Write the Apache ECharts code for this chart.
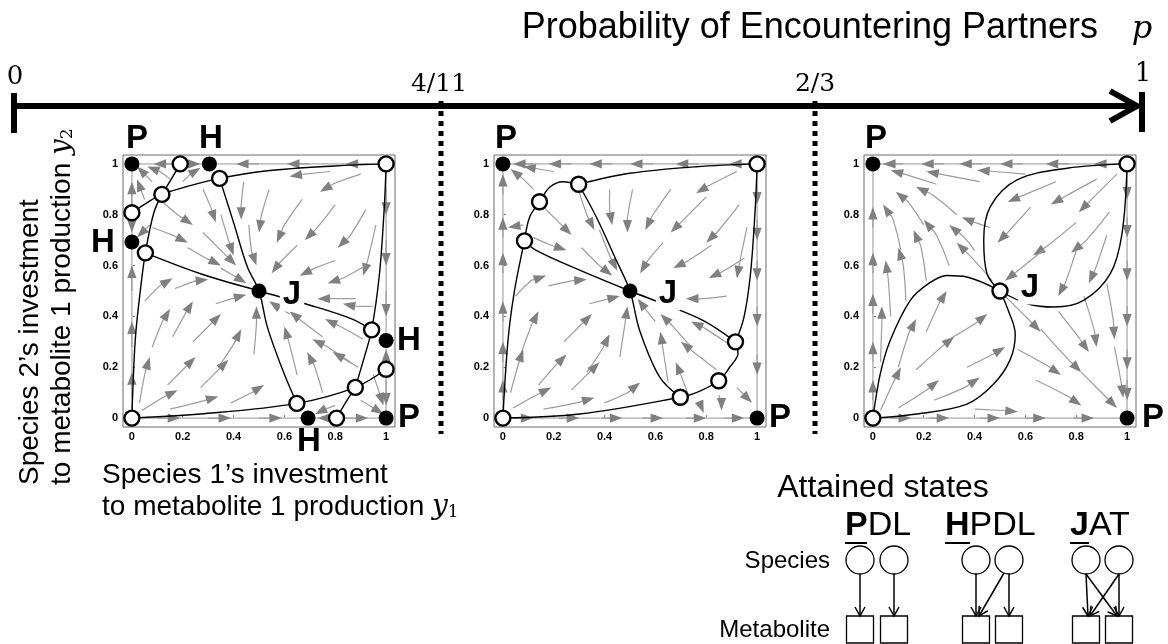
<!DOCTYPE html>
<html><head><meta charset="utf-8">
<script src="https://cdn.jsdelivr.net/npm/echarts@6/dist/echarts.min.js"></script>
<style>html,body{margin:0;padding:0;background:#fff}#c{width:1168px;height:644px}</style>
</head><body><div id="c"></div>
<script>
// ---------- DATA ----------
var tickValues = [0, 0.2, 0.4, 0.6, 0.8, 1];
var pLabels = ['0', '4/11', '2/3', '1'];
var boundaryLoop = [[0,0],[1,0],[1,1],[0,1],[0,0]];

// Panel 1 (p < 4/11)
var p1Stable = [[0,1],[0.305,1],[0,0.693],[0.5,0.5],[1,0.305],[0.693,0],[1,0]];
var p1Unstable = [[0.19,1],[0.345,0.943],[1,1],[0.118,0.88],[0,0.808],[0.053,0.65],[0.943,0.347],[1,0.192],[0.879,0.121],[0.649,0.058],[0.805,0],[0,0]];
var p1Curves = [
  [[0,0.808],[0.06,0.848],[0.118,0.88],[0.217,0.911],[0.345,0.943],[0.533,0.973],[0.796,0.992],[1,1]],
  [[0.118,0.88],[0.155,0.94],[0.19,1]],
  [[0,0],[0.013,0.305],[0.033,0.5],[0.053,0.65],[0.086,0.807],[0.118,0.88]],
  [[0.053,0.65],[0.27,0.568],[0.5,0.5],[0.704,0.443],[0.862,0.391],[0.943,0.347]],
  [[0.345,0.943],[0.401,0.766],[0.454,0.595],[0.5,0.5],[0.533,0.358],[0.599,0.174],[0.649,0.058]],
  [[0,0],[0.27,0.016],[0.649,0.058],[0.879,0.121],[1,0.192]],
  [[1,1],[0.993,0.832],[0.974,0.568],[0.943,0.347],[0.914,0.239],[0.879,0.121]],
  [[0.879,0.121],[0.84,0.06],[0.805,0]]
];
var p1Arrows = [
  [0.16,1,0.125,1,0.085,1],[0.2,1,0.235,1,0.27,1],[0.5,1,0.455,1,0.41,1],[0.7,1,0.655,1,0.61,1],[0.93,1,0.885,1,0.84,1],
  [0,0.84,0,0.88,0,0.93],[0,0.795,0,0.765,0,0.73],[0,0.5,0,0.55,0,0.6],[0,0.28,0,0.33,0,0.38],[0,0.08,0,0.13,0,0.18],
  [1,0.9,1,0.85,1,0.8],[1,0.7,1,0.65,1,0.6],[1,0.5,1,0.45,1,0.4],[1,0.205,1,0.235,1,0.27],[1,0.15,1,0.1,1,0.05],
  [0.1,0,0.145,0,0.19,0],[0.3,0,0.345,0,0.39,0],[0.5,0,0.545,0,0.59,0],[0.79,0,0.765,0,0.73,0],[0.84,0,0.885,0,0.93,0],
  [0.11,0.86,0.18,0.8,0.24,0.76],[0.28,0.73,0.35,0.66,0.41,0.6],[0.28,0.9,0.31,0.83,0.33,0.77],[0.35,0.8,0.38,0.7,0.4,0.64],
  [0.08,0.75,0.16,0.72,0.22,0.69],[0.22,0.67,0.29,0.63,0.35,0.6],[0.35,0.59,0.41,0.555,0.45,0.53],[0.07,0.76,0.05,0.74,0.02,0.71],
  [0.08,0.93,0.05,0.96,0.02,0.99],[0.15,0.94,0.11,0.97,0.06,0.99],[0.2,0.93,0.23,0.96,0.27,0.985],[0.05,0.86,0.035,0.9,0.02,0.94],
  [0.9,0.96,0.8,0.925,0.74,0.89],[0.78,0.97,0.68,0.96,0.62,0.95],[0.44,0.93,0.43,0.84,0.43,0.78],[0.54,0.9,0.51,0.8,0.5,0.73],
  [0.67,0.86,0.6,0.76,0.57,0.69],[0.8,0.84,0.73,0.75,0.68,0.7],[0.92,0.82,0.86,0.72,0.81,0.67],[0.96,0.76,0.93,0.63,0.91,0.56],
  [0.8,0.62,0.72,0.59,0.66,0.56],[0.92,0.6,0.83,0.55,0.77,0.53],[0.65,0.68,0.58,0.61,0.55,0.57],[0.88,0.47,0.79,0.47,0.73,0.47],
  [0.95,0.44,0.88,0.44,0.83,0.45],[0.46,0.76,0.47,0.66,0.49,0.6],
  [0.91,0.31,0.82,0.36,0.76,0.39],[0.75,0.32,0.67,0.38,0.62,0.42],[0.86,0.22,0.77,0.28,0.71,0.31],[0.65,0.17,0.62,0.29,0.6,0.36],
  [0.75,0.1,0.72,0.2,0.69,0.26],[0.89,0.2,0.84,0.23,0.79,0.26],[0.62,0.41,0.57,0.44,0.54,0.46],
  [0.04,0.03,0.12,0.08,0.18,0.11],[0.14,0.13,0.21,0.2,0.25,0.24],[0.08,0.28,0.12,0.38,0.15,0.43],[0.05,0.46,0.11,0.52,0.16,0.55],
  [0.17,0.51,0.25,0.54,0.3,0.545],[0.24,0.3,0.31,0.37,0.35,0.41],[0.33,0.45,0.41,0.475,0.45,0.485],[0.34,0.2,0.4,0.29,0.43,0.35],
  [0.48,0.25,0.49,0.37,0.49,0.44],[0.15,0.035,0.27,0.065,0.34,0.085],[0.39,0.06,0.47,0.1,0.52,0.13],[0.27,0.12,0.34,0.19,0.38,0.23],
  [0.03,0.06,0.05,0.17,0.07,0.24],[0.16,0.32,0.21,0.41,0.24,0.46],
  [0.8,0.05,0.76,0.035,0.72,0.015],[0.9,0.07,0.95,0.04,0.99,0.015],[0.95,0.17,0.97,0.11,0.99,0.05]
];

// Panel 2 (4/11 < p < 2/3)
var p2Stable = [[0,1],[0.5,0.5],[1,0]];
var p2Unstable = [[1,1],[0.298,0.92],[0.144,0.851],[0.085,0.697],[0.915,0.3],[0.849,0.147],[0.698,0.082],[0,0]];
var p2Curves = [
  [[0.298,0.92],[0.499,0.963],[0.761,0.989],[1,1]],
  [[0.298,0.92],[0.236,0.93],[0.184,0.908],[0.144,0.851],[0.105,0.79],[0.085,0.697]],
  [[0,0],[0.02,0.305],[0.046,0.503],[0.085,0.697]],
  [[0.085,0.697],[0.131,0.66],[0.302,0.582],[0.5,0.5],[0.63,0.45],[0.787,0.384],[0.915,0.3]],
  [[0.298,0.92],[0.367,0.792],[0.446,0.621],[0.5,0.5],[0.538,0.345],[0.617,0.161],[0.698,0.082]],
  [[0,0],[0.302,0.016],[0.698,0.082],[0.761,0.1],[0.849,0.147],[0.892,0.2],[0.925,0.255],[0.915,0.3]],
  [[1,1],[0.993,0.832],[0.974,0.568],[0.948,0.395],[0.915,0.3]]
];
var p2Arrows = [
  [0.12,1,0.08,1,0.04,1],[0.27,1,0.225,1,0.18,1],[0.43,1,0.385,1,0.34,1],[0.59,1,0.545,1,0.5,1],[0.77,1,0.725,1,0.68,1],[0.97,1,0.93,1,0.89,1],
  [0,0.07,0,0.11,0,0.15],[0,0.22,0,0.26,0,0.3],[0,0.38,0,0.42,0,0.46],[0,0.57,0,0.61,0,0.65],[0,0.71,0,0.75,0,0.79],[0,0.88,0,0.92,0,0.96],
  [1,0.92,1,0.88,1,0.84],[1,0.78,1,0.74,1,0.7],[1,0.62,1,0.58,1,0.54],[1,0.44,1,0.4,1,0.36],[1,0.25,1,0.21,1,0.17],
  [0.04,0,0.08,0,0.12,0],[0.22,0,0.26,0,0.3,0],[0.39,0,0.43,0,0.47,0],[0.55,0,0.59,0,0.63,0],[0.72,0,0.76,0,0.8,0],[0.87,0,0.91,0,0.95,0],
  [0.12,0.9,0.08,0.94,0.03,0.98],[0.08,0.76,0.05,0.755,0.02,0.75],[0.2,0.97,0.14,0.98,0.08,0.99],
  [0.15,0.84,0.22,0.77,0.27,0.72],[0.31,0.67,0.38,0.6,0.43,0.56],[0.3,0.89,0.33,0.8,0.36,0.74],[0.38,0.74,0.42,0.64,0.45,0.58],
  [0.12,0.71,0.19,0.68,0.25,0.66],
  [0.92,0.97,0.82,0.92,0.76,0.885],[0.51,0.9,0.49,0.79,0.49,0.73],[0.66,0.9,0.59,0.8,0.56,0.74],[0.8,0.87,0.71,0.78,0.66,0.73],
  [0.93,0.84,0.85,0.74,0.8,0.69],[0.82,0.68,0.73,0.62,0.67,0.59],[0.95,0.63,0.87,0.58,0.81,0.55],[0.63,0.69,0.57,0.62,0.54,0.57],
  [0.88,0.48,0.79,0.47,0.72,0.47],[0.96,0.75,0.935,0.63,0.92,0.55],[0.42,0.9,0.42,0.82,0.43,0.76],
  [0.89,0.29,0.8,0.35,0.74,0.38],[0.74,0.28,0.67,0.36,0.62,0.41],[0.84,0.19,0.75,0.26,0.7,0.3],[0.65,0.14,0.63,0.27,0.62,0.34],
  [0.73,0.09,0.7,0.17,0.68,0.22],[0.6,0.38,0.56,0.43,0.53,0.47],
  [0.92,0.12,0.95,0.09,0.98,0.06],[0.78,0.07,0.78,0.045,0.79,0.02],[0.85,0.09,0.86,0.06,0.86,0.03],
  [0.04,0.04,0.13,0.09,0.19,0.12],[0.14,0.13,0.21,0.21,0.25,0.25],[0.07,0.25,0.11,0.36,0.14,0.42],[0.05,0.48,0.11,0.54,0.17,0.56],
  [0.18,0.52,0.27,0.54,0.33,0.545],[0.24,0.3,0.31,0.37,0.35,0.41],[0.34,0.45,0.42,0.47,0.46,0.48],[0.33,0.18,0.39,0.27,0.42,0.33],
  [0.46,0.24,0.48,0.37,0.49,0.44],[0.16,0.035,0.29,0.06,0.36,0.08],[0.4,0.06,0.49,0.1,0.54,0.14],[0.27,0.11,0.34,0.18,0.38,0.22],
  [0.03,0.1,0.06,0.21,0.08,0.27]
];

// Panel 3 (p > 2/3)
var p3Stable = [[0,1],[1,0]];
var p3Unstable = [[1,1],[0.5,0.5],[0,0]];
var p3Curves = [
  [[0,0],[0.029,0.174],[0.068,0.305],[0.147,0.463],[0.22,0.53],[0.291,0.561],[0.37,0.555],[0.5,0.5]],
  [[0,0],[0.173,0.016],[0.37,0.055],[0.475,0.134],[0.54,0.23],[0.56,0.33],[0.53,0.43],[0.5,0.5]],
  [[0.5,0.5],[0.449,0.568],[0.436,0.7],[0.462,0.832],[0.567,0.937],[0.764,0.983],[1,1]],
  [[0.5,0.5],[0.608,0.45],[0.713,0.437],[0.829,0.463],[0.934,0.568],[0.98,0.726],[1,1]]
];
var p3Arrows = [
  [0.12,1,0.08,1,0.04,1],[0.28,1,0.235,1,0.19,1],[0.43,1,0.385,1,0.34,1],[0.59,1,0.545,1,0.5,1],[0.77,1,0.725,1,0.68,1],[0.96,1,0.915,1,0.87,1],
  [0,0.07,0,0.11,0,0.15],[0,0.22,0,0.26,0,0.3],[0,0.41,0,0.45,0,0.49],[0,0.57,0,0.61,0,0.65],[0,0.75,0,0.79,0,0.83],
  [1,0.94,1,0.9,1,0.86],[1,0.79,1,0.75,1,0.71],[1,0.62,1,0.58,1,0.54],[1,0.44,1,0.4,1,0.36],[1,0.27,1,0.23,1,0.19],[1,0.15,1,0.11,1,0.07],
  [0.07,0,0.11,0,0.15,0],[0.22,0,0.26,0,0.3,0],[0.42,0,0.46,0,0.5,0],[0.6,0,0.64,0,0.68,0],[0.79,0,0.83,0,0.87,0],
  [0.03,0.22,0.035,0.37,0.035,0.44],[0.07,0.4,0.06,0.55,0.05,0.62],[0.13,0.46,0.12,0.6,0.1,0.67],[0.21,0.54,0.19,0.67,0.16,0.74],
  [0.11,0.66,0.08,0.78,0.04,0.84],[0.3,0.6,0.25,0.72,0.2,0.78],[0.2,0.76,0.14,0.85,0.09,0.89],[0.33,0.8,0.24,0.875,0.17,0.91],
  [0.47,0.54,0.39,0.63,0.33,0.69],[0.25,0.92,0.14,0.955,0.07,0.975],[0.42,0.93,0.29,0.955,0.21,0.97],[0.6,0.96,0.48,0.97,0.41,0.975],
  [0.46,0.75,0.4,0.77,0.35,0.79],[0.4,0.66,0.36,0.71,0.3,0.76],
  [0.03,0.03,0.08,0.14,0.11,0.2],[0.1,0.04,0.21,0.11,0.26,0.15],[0.1,0.2,0.14,0.33,0.17,0.39],[0.17,0.19,0.27,0.28,0.32,0.32],
  [0.24,0.07,0.36,0.12,0.42,0.16],[0.21,0.34,0.26,0.45,0.29,0.5],[0.3,0.31,0.4,0.37,0.45,0.41],[0.37,0.2,0.47,0.25,0.52,0.28],
  [0.96,0.96,0.87,0.87,0.81,0.81],[0.88,0.94,0.77,0.88,0.7,0.84],[0.72,0.93,0.6,0.88,0.53,0.85],[0.93,0.81,0.84,0.7,0.78,0.65],
  [0.8,0.77,0.69,0.68,0.63,0.64],[0.67,0.66,0.57,0.58,0.52,0.54],[0.92,0.72,0.88,0.6,0.85,0.53],[0.8,0.66,0.76,0.54,0.73,0.48],
  [0.62,0.83,0.53,0.73,0.49,0.69],
  [0.52,0.48,0.6,0.4,0.66,0.34],[0.66,0.35,0.76,0.24,0.82,0.18],[0.82,0.18,0.91,0.09,0.96,0.04],[0.57,0.27,0.68,0.21,0.74,0.17],
  [0.64,0.15,0.76,0.09,0.82,0.05],[0.83,0.48,0.87,0.35,0.88,0.28],[0.92,0.53,0.945,0.39,0.95,0.31],[0.95,0.28,0.975,0.15,0.985,0.08],
  [0.4,0.035,0.51,0.03,0.57,0.025],[0.73,0.42,0.8,0.33,0.85,0.26]
];

// ---------- STYLE / LAYOUT ----------
var SANS = '"Liberation Sans", Arial, Helvetica, sans-serif';
var SERIF = '"DejaVu Serif", "Liberation Serif", serif';
var gridLefts = [123, 494, 864];
var panels = [
  {stable: p1Stable, unstable: p1Unstable, curves: p1Curves, arrows: p1Arrows},
  {stable: p2Stable, unstable: p2Unstable, curves: p2Curves, arrows: p2Arrows},
  {stable: p3Stable, unstable: p3Unstable, curves: p3Curves, arrows: p3Arrows}
];

function renderArrow(params, api) {
  var a = api.coord([api.value(0), api.value(1)]);
  var m = api.coord([api.value(2), api.value(3)]);
  var b = api.coord([api.value(4), api.value(5)]);
  var dx = b[0] - m[0], dy = b[1] - m[1];
  var len = Math.sqrt(dx * dx + dy * dy) || 1;
  var ux = dx / len, uy = dy / len;
  var L = 12.5, W = 4.6;
  var bx = b[0] - ux * L, by = b[1] - uy * L;
  return {type: 'group', children: [
    {type: 'polyline', shape: {points: [a, m, [bx + ux * 2, by + uy * 2]], smooth: 0.5},
     style: {stroke: '#9c9c9c', lineWidth: 1.2, fill: null}},
    {type: 'polygon', shape: {points: [b, [bx - uy * W, by + ux * W], [bx + uy * W, by - ux * W]]},
     style: {fill: '#808080'}}
  ]};
}

var grids = [], xAxes = [], yAxes = [], series = [];
gridLefts.forEach(function (left, i) {
  grids.push({left: left, top: 155, width: 272, height: 272, show: true, borderColor: '#6a6a6a', borderWidth: 1, backgroundColor: 'transparent'});
  function mkAxis(margin) {
    return {
      gridIndex: i, type: 'value', min: -0.035, max: 1.035,
      axisLine: {show: false}, splitLine: {show: false},
      axisTick: {show: true, inside: true, length: 3, lineStyle: {color: '#777'}, customValues: tickValues},
      axisLabel: {customValues: tickValues, fontSize: 11, fontWeight: 'bold', color: '#000', fontFamily: SANS, margin: margin,
        formatter: function (v) { return String(Math.round(v * 10) / 10); }}
    };
  }
  xAxes.push(mkAxis(4)); yAxes.push(mkAxis(5));
  var P = panels[i];
  series.push({type: 'line', xAxisIndex: i, yAxisIndex: i, data: boundaryLoop, showSymbol: false, silent: true,
    lineStyle: {color: '#c4c4c4', width: 1.8}, z: 1});
  series.push({type: 'custom', xAxisIndex: i, yAxisIndex: i, coordinateSystem: 'cartesian2d', renderItem: renderArrow,
    data: P.arrows, encode: {x: [0, 2, 4], y: [1, 3, 5]}, clip: false, silent: true, z: 2});
  P.curves.forEach(function (c) {
    series.push({type: 'line', xAxisIndex: i, yAxisIndex: i, data: c, smooth: 0.35, showSymbol: false, silent: true,
      lineStyle: {color: '#000', width: 1.4, opacity: 1}, z: 3});
  });
  series.push({type: 'scatter', xAxisIndex: i, yAxisIndex: i, data: P.unstable, symbolSize: 15, silent: true,
    itemStyle: {color: '#fff', borderColor: '#000', borderWidth: 2.4, opacity: 1}, z: 5, clip: false});
  series.push({type: 'scatter', xAxisIndex: i, yAxisIndex: i, data: P.stable, symbolSize: 15, silent: true,
    itemStyle: {color: '#000', opacity: 1}, z: 5, clip: false});
});

// ---------- GRAPHIC (annotation, top axis, diagram) ----------
var g = [];
function txt(x, y, s, font, opt) {
  var st = {text: s, font: font, fill: '#000', textAlign: 'center', textVerticalAlign: 'middle'};
  if (opt) for (var k in opt) st[k] = opt[k];
  return {type: 'text', x: x, y: y, style: st, z: 50};
}
function seg(x1, y1, x2, y2, w, extra) {
  var st = {stroke: '#000', lineWidth: w};
  if (extra) for (var k in extra) st[k] = extra[k];
  return {type: 'line', shape: {x1: x1, y1: y1, x2: x2, y2: y2}, style: st, z: 50};
}
// top probability axis
g.push(seg(14, 106, 1136, 106, 6));
g.push(seg(14, 93, 14, 133, 6));
g.push(seg(1142, 92, 1142, 132, 6));
g.push({type: 'polyline', shape: {points: [[1110, 91], [1137, 106], [1110, 121]]}, style: {stroke: '#000', lineWidth: 6, fill: null, lineJoin: 'miter'}, z: 50});
g.push(seg(441, 101, 441, 434, 5, {lineDash: [5, 5]}));
g.push(seg(815, 101, 815, 434, 5, {lineDash: [5, 5]}));
g.push(txt(15, 77, pLabels[0], '26px ' + SERIF));
g.push(txt(439, 84, pLabels[1], '25px ' + SERIF));
g.push(txt(815, 84, pLabels[2], '25px ' + SERIF));
g.push(txt(1143, 74, pLabels[3], '26px ' + SERIF));
g.push(txt(1098, 28, 'Probability of Encountering Partners', '36px ' + SANS, {textAlign: 'right'}));
g.push(txt(1142, 30, 'p', 'italic 32px ' + SERIF));

// state labels
var B = 'bold 33px ' + SANS;
[[137,139,'P'],[211,139,'H'],[103,243,'H'],[409,341,'H'],[409,418,'P'],[309,442,'H'],
 [506,139,'P'],[780,418,'P'],[876,139,'P'],[1153,418,'P']].forEach(function (l) { g.push(txt(l[0], l[1], l[2], B)); });
[[292,295],[668,294],[1030,288]].forEach(function (l) {
  g.push(txt(l[0], l[1], 'J', B, {backgroundColor: '#fff', padding: [0, 3, 0, 3]}));
});

// axis titles
var axFont = '28px ' + SANS;
g.push(txt(102, 475, 'Species 1\u2019s investment', axFont, {textAlign: 'left'}));
g.push({type: 'text', x: 102, y: 507, z: 50, style: {
  text: '{a|to metabolite 1 production }{y|y}{s|1}', textAlign: 'left', textVerticalAlign: 'middle', fill: '#000',
  rich: {a: {font: axFont}, y: {font: 'italic 28px ' + SERIF}, s: {font: '17px ' + SERIF, padding: [12, 0, 0, 0]}}}});
g.push({type: 'text', x: 30, y: 485, rotation: Math.PI / 2, z: 50,
  style: {text: 'Species 2\u2019s investment', font: axFont, fill: '#000', textAlign: 'left', textVerticalAlign: 'middle'}});
g.push({type: 'text', x: 62, y: 485, rotation: Math.PI / 2, z: 50, style: {
  text: '{a|to metabolite 1 production }{y|y}{s|2}', textAlign: 'left', textVerticalAlign: 'middle', fill: '#000',
  rich: {a: {font: axFont}, y: {font: 'italic 28px ' + SERIF}, s: {font: '17px ' + SERIF, padding: [12, 0, 0, 0]}}}});

// attained-states diagram
g.push(txt(883, 488, 'Attained states', '32px ' + SANS));
var stateNames = [['P', 'DL', 845, 22], ['H', 'PDL', 945, 25], ['J', 'AT', 1070, 19]];
stateNames.forEach(function (s) {
  g.push({type: 'text', x: s[2], y: 526, z: 50, style: {
    text: '{b|' + s[0] + '}{r|' + s[1] + '}', textAlign: 'left', textVerticalAlign: 'middle', fill: '#000',
    rich: {b: {font: 'bold 34px ' + SANS}, r: {font: '34px ' + SANS}}}});
  g.push(seg(s[2], 543, s[2] + s[3], 543, 2));
});
g.push(txt(830, 561, 'Species', '24px ' + SANS, {textAlign: 'right'}));
g.push(txt(830, 630, 'Metabolite', '24px ' + SANS, {textAlign: 'right'}));
[860, 894, 976, 1009, 1086, 1119].forEach(function (cx) {
  g.push({type: 'circle', shape: {cx: cx, cy: 560, r: 14}, style: {fill: '#fff', stroke: '#000', lineWidth: 1.3}, z: 50});
  g.push({type: 'rect', shape: {x: cx - 13.5, y: 616, width: 27, height: 27}, style: {fill: '#fff', stroke: '#000', lineWidth: 1.3}, z: 50});
});
function darrow(x1, y1, x2, y2) {
  var dx = x2 - x1, dy = y2 - y1, l = Math.sqrt(dx * dx + dy * dy), ux = dx / l, uy = dy / l;
  var bx = x2 - ux * 9, by = y2 - uy * 9;
  g.push(seg(x1, y1, x2, y2, 1.5));
  g.push({type: 'polyline', shape: {points: [[bx - uy * 5, by + ux * 5], [x2, y2], [bx + uy * 5, by - ux * 5]]},
    style: {stroke: '#000', lineWidth: 1.5, fill: null}, z: 50});
}
darrow(860, 574, 860, 616); darrow(894, 574, 894, 616);
darrow(976, 574, 976, 616); darrow(1009, 574, 1009, 616); darrow(1004, 573, 979, 616);
darrow(1086, 574, 1088, 616); darrow(1086, 574, 1117, 616); darrow(1119, 574, 1090, 616); darrow(1119, 574, 1119, 616);

var chart = echarts.init(document.getElementById('c'), null, {renderer: 'canvas'});
chart.setOption({
  backgroundColor: '#fff', animation: false,
  grid: grids, xAxis: xAxes, yAxis: yAxes, series: series, graphic: g
});
</script></body></html>
